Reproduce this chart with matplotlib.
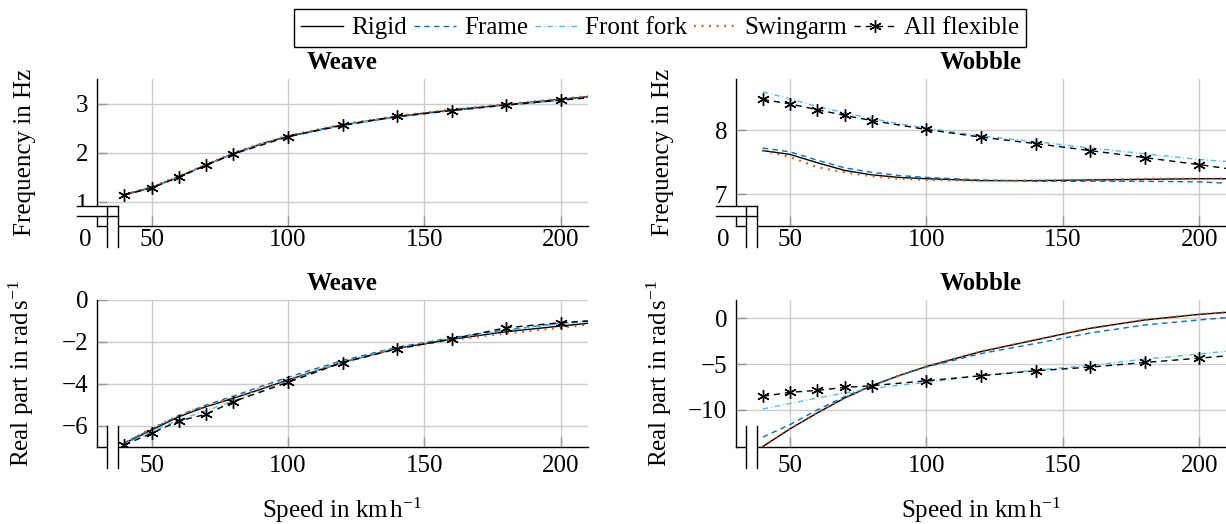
import matplotlib
matplotlib.use("Agg")
import matplotlib.pyplot as plt
from matplotlib.patches import Rectangle
from matplotlib.lines import Line2D

# ---------------- data ----------------
speeds = [40, 50, 60, 70, 80, 90, 100, 120, 140, 160, 180, 200, 210]
speeds_flex = [40, 50, 60, 70, 80, 100, 120, 140, 160, 180, 200, 210]

# Weave frequency (Hz)
weave_f_rigid = [1.15, 1.30, 1.52, 1.76, 1.99, 2.18, 2.34, 2.57, 2.74, 2.87, 2.98, 3.09, 3.14]
weave_f_frame = [1.15, 1.30, 1.51, 1.75, 1.98, 2.17, 2.33, 2.56, 2.73, 2.86, 2.97, 3.07, 3.12]
weave_f_fork = [1.15, 1.30, 1.52, 1.76, 1.99, 2.18, 2.34, 2.57, 2.74, 2.86, 2.97, 3.08, 3.13]
weave_f_swing = [1.16, 1.31, 1.53, 1.77, 2.00, 2.19, 2.35, 2.58, 2.75, 2.88, 2.99, 3.10, 3.15]
weave_f_flex = [1.15, 1.29, 1.51, 1.75, 1.98, 2.33, 2.56, 2.74, 2.86, 2.97, 3.07, 3.12]

# Wobble frequency (Hz)
wobble_f_rigid = [7.68, 7.62, 7.49, 7.37, 7.30, 7.26, 7.24, 7.21, 7.21, 7.22, 7.23, 7.24, 7.24]
wobble_f_frame = [7.72, 7.66, 7.53, 7.41, 7.34, 7.29, 7.26, 7.22, 7.20, 7.20, 7.20, 7.19, 7.17]
wobble_f_fork = [8.60, 8.49, 8.37, 8.27, 8.18, 8.10, 8.03, 7.91, 7.82, 7.72, 7.63, 7.54, 7.51]
wobble_f_swing = [7.68, 7.58, 7.42, 7.34, 7.28, 7.24, 7.22, 7.21, 7.21, 7.22, 7.24, 7.24, 7.24]
wobble_f_flex = [8.48, 8.41, 8.32, 8.23, 8.15, 8.01, 7.89, 7.79, 7.68, 7.57, 7.46, 7.40]

# Weave real part (rad/s)
weave_r_rigid = [-6.83, -6.19, -5.56, -5.08, -4.68, -4.25, -3.81, -2.97, -2.30, -1.87, -1.51, -1.24, -1.11]
weave_r_frame = [-6.80, -6.15, -5.50, -5.00, -4.58, -4.12, -3.68, -2.88, -2.25, -1.80, -1.42, -1.10, -1.00]
weave_r_fork = [-6.85, -6.28, -5.70, -5.28, -4.80, -4.33, -3.86, -2.95, -2.28, -1.84, -1.45, -1.13, -1.03]
weave_r_swing = [-6.80, -6.12, -5.50, -5.05, -4.65, -4.22, -3.79, -2.97, -2.31, -1.90, -1.59, -1.32, -1.17]
weave_r_flex = [-6.90, -6.35, -5.76, -5.44, -4.84, -3.92, -2.98, -2.33, -1.86, -1.32, -1.08, -1.00]

# Wobble real part (rad/s)
wobble_r_rigid = [-14.0, -12.07, -10.33, -8.70, -7.36, -6.25, -5.26, -3.63, -2.36, -1.09, -0.18, 0.43, 0.65]
wobble_r_frame = [-12.97, -11.6, -10.0, -8.55, -7.35, -6.25, -5.32, -3.85, -2.75, -1.60, -0.73, -0.18, 0.08]
wobble_r_fork = [-9.90, -9.30, -8.70, -8.15, -7.65, -7.30, -7.00, -6.25, -5.65, -5.15, -4.45, -3.90, -3.58]
wobble_r_swing = [-14.0, -12.05, -10.30, -8.68, -7.35, -6.24, -5.25, -3.62, -2.35, -1.08, -0.17, 0.44, 0.66]
wobble_r_flex = [-8.52, -8.08, -7.87, -7.54, -7.36, -6.82, -6.27, -5.73, -5.33, -4.82, -4.35, -4.10]

labels = ["Rigid", "Frame", "Front fork", "Swingarm", "All flexible"]
x_ticks = [50, 100, 150, 200]

# ---------------- style ----------------
FS = 18
plt.rcParams.update({
    "font.family": ["Liberation Serif", "DejaVu Serif"],
    "mathtext.fontset": "custom",
    "mathtext.rm": "Liberation Serif",
    "mathtext.it": "Liberation Serif:italic",
    "mathtext.bf": "Liberation Serif:bold",
    "font.size": FS,
    "axes.unicode_minus": True,
})

W, H = 1226, 524
fig = plt.figure(figsize=(W / 100, H / 100), dpi=100)

C_FRAME = "#0072BD"
C_FORK = "#4DBEEE"
C_SWING = "#D95319"

styles = [
    dict(color="black", lw=1.0, ls="-"),
    dict(color=C_FRAME, lw=1.0, dashes=(4, 3)),
    dict(color=C_FORK, lw=1.0, dashes=(4, 2, 0.6, 2)),
    dict(color=C_SWING, lw=1.6, dashes=(0.8, 2.6)),
]
flex_style = dict(color="black", lw=1.0, dashes=(4.5, 3.5), marker=(6, 2, 0),
                  markersize=9, markeredgewidth=1.0, markevery=slice(0, -1))


def px_rect(left, bottom):
    return [left / W, (H - bottom) / H, 491 / W, 147 / H]


def add_break(ax, with_y):
    """Draw the axis-break glyph at the lower left corner (offsets in pixels)."""
    aw, ah = 491.0, 147.0
    fx = lambda p: p / aw
    fy = lambda p: p / ah
    kw = dict(transform=ax.transAxes, clip_on=False, zorder=10)
    if with_y:
        ax.add_patch(Rectangle((fx(-20), fy(10)), fx(41), fy(10), facecolor="white",
                               edgecolor="none", **kw))
        ax.add_patch(Rectangle((fx(10), fy(-21)), fx(11), fy(41), facecolor="white",
                               edgecolor="none", **kw))
        for yy in (10, 20):
            ax.add_line(Line2D([fx(-20), fx(21)], [fy(yy), fy(yy)], color="black",
                               lw=1.0, **kw))
        for xx in (10, 21):
            ax.add_line(Line2D([fx(xx), fx(xx)], [fy(-21), fy(20)], color="black",
                               lw=1.0, **kw))
        ax.text(fx(-12), fy(-14), "0", ha="center", va="center", transform=ax.transAxes,
                clip_on=False)
    else:
        ax.add_patch(Rectangle((fx(10), fy(-21)), fx(11), fy(42), facecolor="white",
                               edgecolor="none", **kw))
        for xx in (10, 21):
            ax.add_line(Line2D([fx(xx), fx(xx)], [fy(-21), fy(21)], color="black",
                               lw=1.0, **kw))


def setup(ax, title, ylim, yticks, ylabel, xpad, xlabel=None, with_y_break=False):
    ax.set_xlim(30, 210)
    ax.set_ylim(*ylim)
    ax.set_xticks(x_ticks)
    ax.set_yticks(yticks)
    for s in ("top", "right"):
        ax.spines[s].set_visible(False)
    for s in ("left", "bottom"):
        ax.spines[s].set_linewidth(1.0)
    ax.grid(True, color="#cccccc", lw=1.0)
    ax.set_axisbelow(True)
    ax.tick_params(direction="in", length=7, width=1.0, color="#999999")
    ax.tick_params(axis="y", pad=6)
    ax.tick_params(axis="x", pad=xpad)
    ax.set_title(title, fontweight="bold", fontsize=FS, pad=7)
    ax.set_ylabel(ylabel)
    ax.yaxis.set_label_coords(-0.125, 0.5)
    if xlabel:
        ax.set_xlabel(xlabel)
        ax.xaxis.set_label_coords(0.5, -0.33)
    add_break(ax, with_y_break)


def draw(ax, series, flex):
    handles = []
    for y, st, lab in zip(series, styles, labels):
        (h,) = ax.plot(speeds, y, label=lab, **st)
        handles.append(h)
    (h,) = ax.plot(speeds_flex, flex, label=labels[4], **flex_style)
    handles.append(h)
    return handles


ax1 = fig.add_axes(px_rect(97, 226))
ax2 = fig.add_axes(px_rect(735.5, 226))
ax3 = fig.add_axes(px_rect(97, 447))
ax4 = fig.add_axes(px_rect(735.5, 447))

handles = draw(ax1, [weave_f_rigid, weave_f_frame, weave_f_fork, weave_f_swing], weave_f_flex)
draw(ax2, [wobble_f_rigid, wobble_f_frame, wobble_f_fork, wobble_f_swing], wobble_f_flex)
draw(ax3, [weave_r_rigid, weave_r_frame, weave_r_fork, weave_r_swing], weave_r_flex)
draw(ax4, [wobble_r_rigid, wobble_r_frame, wobble_r_fork, wobble_r_swing], wobble_r_flex)

xl = r"Speed in km$\,$h$^{-1}$"
yl_r = r"Real part in rad$\,$s$^{-1}$"
setup(ax1, "Weave", (0.52, 3.5), [1, 2, 3], "Frequency in Hz", 2.5, with_y_break=True)
setup(ax2, "Wobble", (6.5, 8.8), [7, 8], "Frequency in Hz", 2.5, with_y_break=True)
setup(ax3, "Weave", (-7, 0), [0, -2, -4, -6], yl_r, 6, xlabel=xl)
setup(ax4, "Wobble", (-14.05, 2), [0, -5, -10], yl_r, 6, xlabel=xl)

leg = fig.legend(handles=handles, labels=labels, loc="center",
                 bbox_to_anchor=(660 / W, (H - 28) / H), ncol=5, frameon=True,
                 fancybox=False, framealpha=1, edgecolor="black", handlelength=1.68,
                 handletextpad=0.32, columnspacing=0.28, borderpad=0.3, numpoints=1,
                 borderaxespad=0)
leg.get_frame().set_linewidth(1.0)

fig.savefig("out.png", dpi=100)
